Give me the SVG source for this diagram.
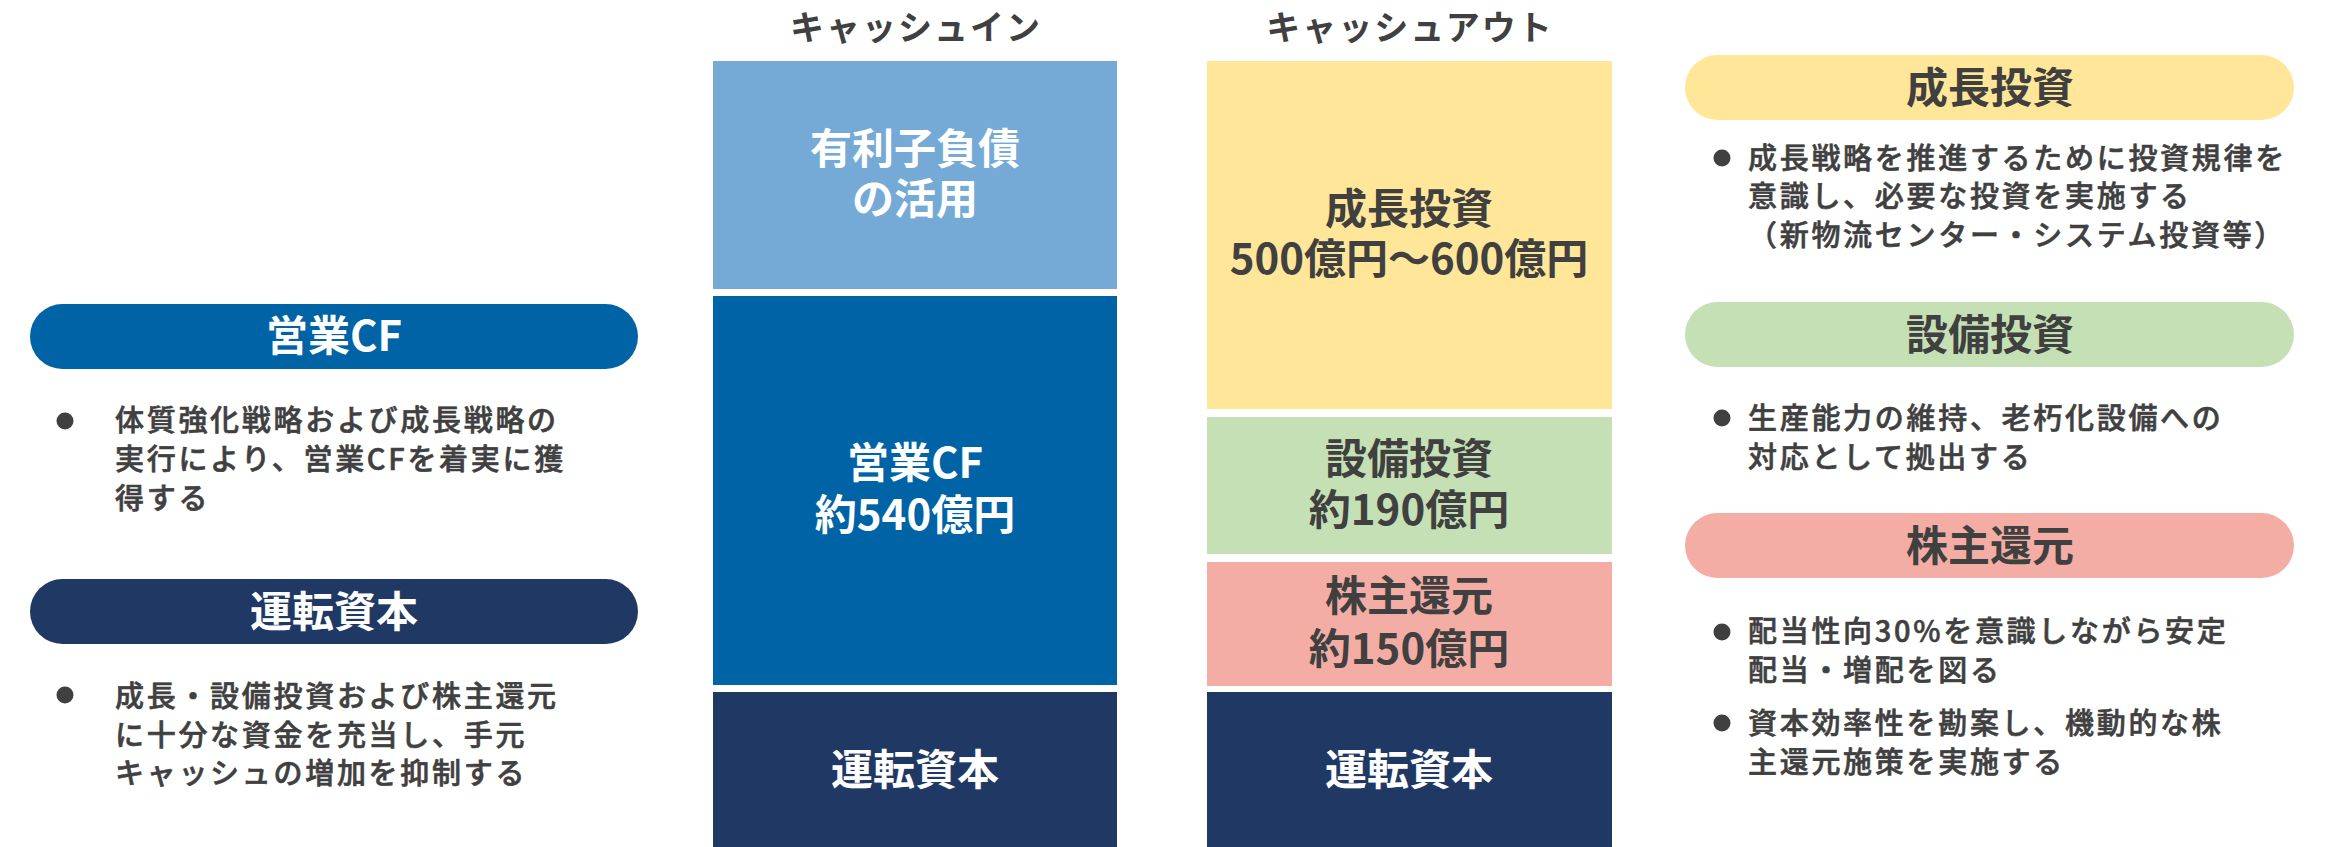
<svg xmlns="http://www.w3.org/2000/svg" width="2343" height="847" viewBox="0 0 2343 847">
<style>
text{font-family:"Noto Sans CJK JP","Noto Sans",sans-serif;}
.hdr{font-size:34px;font-weight:bold;fill:#404040;text-anchor:middle;letter-spacing:2px;}
.big{font-size:42px;font-weight:bold;text-anchor:middle;}
.w{fill:#ffffff;}
.d{fill:#404040;}
.body{font-size:29px;font-weight:500;fill:#404040;stroke:#404040;stroke-width:0.6px;letter-spacing:2.7px;}
.dot{fill:#404040;}
</style>
<rect width="2343" height="847" fill="#ffffff"/>
<g id="header-in"><text class="hdr" x="916" y="40">キャッシュイン</text></g>
<g id="header-out"><text class="hdr" x="1410" y="40">キャッシュアウト</text></g>

<g id="in-debt">
<rect x="713" y="61" width="404" height="228" fill="#75AAD6"/>
<text class="big w" x="915" y="164">有利子負債</text>
<text class="big w" x="915" y="214">の活用</text>
</g>
<g id="in-opcf">
<rect x="713" y="296" width="404" height="389" fill="#0063A5"/>
<text class="big w" x="915" y="478">営業CF</text>
<text class="big w" x="915" y="530">約540億円</text>
</g>
<g id="in-wc">
<rect x="713" y="692" width="404" height="155" fill="#203864"/>
<text class="big w" x="915" y="785">運転資本</text>
</g>

<g id="out-growth">
<rect x="1207" y="61" width="405" height="348" fill="#FFE699"/>
<text class="big d" x="1409" y="224">成長投資</text>
<text class="big d" x="1409" y="274">500億円～600億円</text>
</g>
<g id="out-capex">
<rect x="1207" y="417" width="405" height="137" fill="#C5E0B4"/>
<text class="big d" x="1409" y="474">設備投資</text>
<text class="big d" x="1409" y="525">約190億円</text>
</g>
<g id="out-return">
<rect x="1207" y="562" width="405" height="124" fill="#F3ADA4"/>
<text class="big d" x="1409" y="611">株主還元</text>
<text class="big d" x="1409" y="664">約150億円</text>
</g>
<g id="out-wc">
<rect x="1207" y="692" width="405" height="155" fill="#203864"/>
<text class="big w" x="1409" y="785">運転資本</text>
</g>

<g id="left-opcf">
<rect x="30" y="304" width="608" height="65" rx="32.5" fill="#0063A5"/>
<text class="big w" x="334" y="351">営業CF</text>
<circle class="dot" cx="65" cy="421" r="8.5"/>
<text class="body" x="115" y="431">体質強化戦略および成長戦略の</text>
<text class="body" x="115" y="470">実行により、営業CFを着実に獲</text>
<text class="body" x="115" y="509">得する</text>
</g>
<g id="left-wc">
<rect x="30" y="579" width="608" height="65" rx="32.5" fill="#203864"/>
<text class="big w" x="334" y="627">運転資本</text>
<circle class="dot" cx="65" cy="695" r="8.5"/>
<text class="body" x="115" y="707">成長・設備投資および株主還元</text>
<text class="body" x="115" y="746">に十分な資金を充当し、手元</text>
<text class="body" x="115" y="784">キャッシュの増加を抑制する</text>
</g>

<g id="right-growth">
<rect x="1685" y="55" width="609" height="65" rx="32.5" fill="#FFE699"/>
<text class="big d" x="1990" y="103">成長投資</text>
<circle class="dot" cx="1722" cy="158" r="8.5"/>
<text class="body" x="1748" y="169">成長戦略を推進するために投資規律を</text>
<text class="body" x="1748" y="207">意識し、必要な投資を実施する</text>
<text class="body" x="1748" y="246">（新物流センター・システム投資等）</text>
</g>
<g id="right-capex">
<rect x="1685" y="302" width="609" height="65" rx="32.5" fill="#C5E0B4"/>
<text class="big d" x="1990" y="350">設備投資</text>
<circle class="dot" cx="1722" cy="418" r="8.5"/>
<text class="body" x="1748" y="429">生産能力の維持、老朽化設備への</text>
<text class="body" x="1748" y="468">対応として拠出する</text>
</g>
<g id="right-return">
<rect x="1685" y="513" width="609" height="65" rx="32.5" fill="#F3ADA4"/>
<text class="big d" x="1990" y="561">株主還元</text>
<circle class="dot" cx="1722" cy="632" r="8.5"/>
<text class="body" x="1748" y="642">配当性向30%を意識しながら安定</text>
<text class="body" x="1748" y="681">配当・増配を図る</text>
<circle class="dot" cx="1722" cy="723" r="8.5"/>
<text class="body" x="1748" y="734">資本効率性を勘案し、機動的な株</text>
<text class="body" x="1748" y="773">主還元施策を実施する</text>
</g>
</svg>
